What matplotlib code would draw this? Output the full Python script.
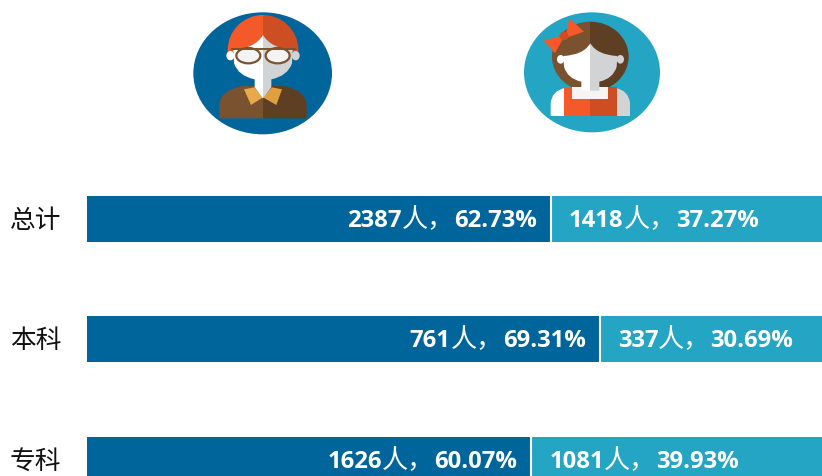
#!/usr/bin/env python3
import numpy as np
import matplotlib
matplotlib.use("Agg")
import matplotlib.pyplot as plt
from matplotlib.patches import Ellipse, PathPatch, Polygon, Rectangle
from matplotlib.path import Path
from matplotlib.transforms import offset_copy

####### Data #######
categories = ["总计", "本科", "专科"]
male_counts = [2387, 761, 1626]
female_counts = [1418, 337, 1081]
male_pct = [62.73, 69.31, 60.07]
female_pct = [37.27, 30.69, 39.93]

DARK = "#00659B"
LIGHT = "#24A5C4"
ORANGE_L, ORANGE_R = "#F4592A", "#CC4E22"
BROWN_L, BROWN_R = "#7A5230", "#5E3F24"
WHITE, GREY = "#FFFFFF", "#D1D3D4"

plt.rcParams["font.family"] = ["Noto Sans CJK SC", "DejaVu Sans"]

W, H = 822, 477
fig = plt.figure(figsize=(W / 100, H / 100), dpi=100)

####### Bars #######
# axes runs from the bars' left edge to the image edge, 7.397 px per percent
ax = fig.add_axes([87 / W, 0, (W - 87) / W, 1])
ax.set_xlim(0, (W - 87) / 7.397)
row_px, first_px = 120.5, 219.5
ax.set_ylim((H - first_px) / row_px, -first_px / row_px)
ax.axis("off")
y = np.arange(len(categories))
bar_h = 46 / row_px
ax.barh(y, male_pct, height=bar_h, color=DARK)
ax.barh(y, female_pct, left=male_pct, height=bar_h, color=LIGHT)
ax.vlines(male_pct, y - bar_h / 2, y + bar_h / 2, color="white", lw=1.5)

fig.canvas.draw()
renderer = fig.canvas.get_renderer()


def chain_label(x, y0, count, pct, start_px, backwards):
    """writes count / 人， / pct side by side, the digits bold and the 人 thin"""
    pieces = [(str(count), "bold", 17.2), ("人，", "light", 18.8), ("%.2f%%" % pct, "bold", 17.2)]
    if backwards:
        pieces = pieces[::-1]
    offset = start_px
    for piece, weight, size in pieces:
        trans = offset_copy(ax.transData, fig=fig, x=offset, y=-7.5, units="dots")
        t = ax.text(x, y0, piece, color="white", fontsize=size, va="baseline",
                    ha="right" if backwards else "left", fontweight=weight,
                    family=["Open Sans", "Noto Sans CJK SC"], transform=trans)
        width = t.get_window_extent(renderer).width
        offset += -width if backwards else width


for i in range(len(categories)):
    chain_label(male_pct[i], y[i], male_counts[i], male_pct[i], -14, True)
    chain_label(male_pct[i], y[i], female_counts[i], female_pct[i], 18, False)
    fig.text(10 / W, 1 - (first_px + 1.5 + i * row_px) / H, categories[i], fontsize=18.5,
             color="#111111", va="center", ha="left", fontweight="light")


####### Icons, each in its own small axes of 170x140 px, at 3 units per px #######
def icon_axes(left_px):
    a = fig.add_axes([left_px / W, 1 - 141 / H, 170 / W, 140 / H])
    a.set_xlim(0, 510)
    a.set_ylim(420, 0)
    a.axis("off")
    a.patch.set_alpha(0)
    return a


def two_tone(a, make_patch, left, right, cx):
    """adds a shape twice, each copy clipped to one side of the line x = cx"""
    for color, x0, x1 in [(left, 0, cx), (right, cx, 510)]:
        patch = a.add_patch(make_patch(color))
        patch.set_clip_path(Rectangle((x0, 0), x1 - x0, 420, transform=a.transData))


def mirrored(cx, half):
    """closes a left-hand outline with its mirror image about x = cx"""
    verts = [p for p, _ in half] + [(2 * cx - p[0], p[1]) for p, _ in half[::-1]]
    codes = [c for _, c in half]
    back = [c for _, c in half[::-1]]
    # a curve segment keeps its control point order when reversed
    codes += [Path.LINETO] + back[:-1]
    return Path(verts, codes)


M, L, Q = Path.MOVETO, Path.LINETO, Path.CURVE3

# man
a = icon_axes(180)
cx = 249
a.add_patch(Ellipse((248, 220), 416, 366, color=DARK, lw=0))
shoulders = mirrored(cx, [((118, 355), M), ((118, 315), L), ((120, 270), Q), ((190, 258), Q), ((249, 258), L)])
two_tone(a, lambda c: PathPatch(shoulders, color=c, lw=0), BROWN_L, BROWN_R, cx)
a.add_patch(Polygon([(192, 268), (222, 262), (249, 292), (213, 315)], color="#E9A84C", lw=0))
a.add_patch(Polygon([(306, 268), (276, 262), (249, 292), (289, 315)], color="#E0A040", lw=0))
for color, x0, x1 in [(ORANGE_L, 0, cx), (ORANGE_R, cx, 510)]:
    hair = a.add_patch(Ellipse((cx, 150), 212, 210, color=color, lw=0))
    hair.set_clip_path(Rectangle((x0, 0), x1 - x0, 155, transform=a.transData))
face = mirrored(cx, [((249, 105), M), ((225, 145), Q), ((160, 150), Q), ((162, 190), L),
                     ((175, 228), Q), ((224, 238), Q), ((224, 262), L), ((249, 295), L)])
two_tone(a, lambda c: PathPatch(face, color=c, lw=0), WHITE, GREY, cx)
a.add_patch(Ellipse((151, 167), 24, 28, color=WHITE, lw=0))
a.add_patch(Ellipse((347, 167), 24, 28, color=GREY, lw=0))
for gx in (205, 293):
    a.add_patch(Ellipse((gx, 167), 72, 46, fc="#F3F3F3", ec=BROWN_L, lw=1.6))
a.plot([155, 345], [148, 148], color=BROWN_L, lw=1.4)

# woman
a = icon_axes(510)
cx = 241
a.add_patch(Ellipse((246, 217), 408, 360, color=LIGHT, lw=0))
two_tone(a, lambda c: Ellipse((cx, 170), 230, 210, color=c, lw=0), BROWN_L, BROWN_R, cx)
body = mirrored(cx, [((122, 348), M), ((122, 310), L), ((125, 272), Q), ((165, 264), Q), ((241, 264), L)])
two_tone(a, lambda c: PathPatch(body, color=c, lw=0), WHITE, GREY, cx)
two_tone(a, lambda c: Rectangle((162, 262), 158, 86, color=c, lw=0), ORANGE_L, ORANGE_R, cx)
a.add_patch(Rectangle((185, 262), 110, 36, color="#F8F4F2", lw=0))
face = mirrored(cx, [((241, 130), M), ((220, 165), Q), ((160, 168), Q), ((162, 200), L),
                     ((172, 236), Q), ((214, 245), Q), ((214, 272), L), ((241, 272), L)])
two_tone(a, lambda c: PathPatch(face, color=c, lw=0), WHITE, GREY, cx)
a.add_patch(Ellipse((152, 178), 22, 26, color=WHITE, lw=0))
a.add_patch(Ellipse((331, 178), 22, 26, color=GREY, lw=0))
a.add_patch(Polygon([(100, 122), (165, 105), (135, 160)], color=ORANGE_L, lw=0))
a.add_patch(Polygon([(178, 55), (222, 95), (165, 115)], color=ORANGE_L, lw=0))
a.add_patch(Ellipse((162, 108), 26, 26, color=ORANGE_R, lw=0))

fig.savefig("out.png", dpi=100)
